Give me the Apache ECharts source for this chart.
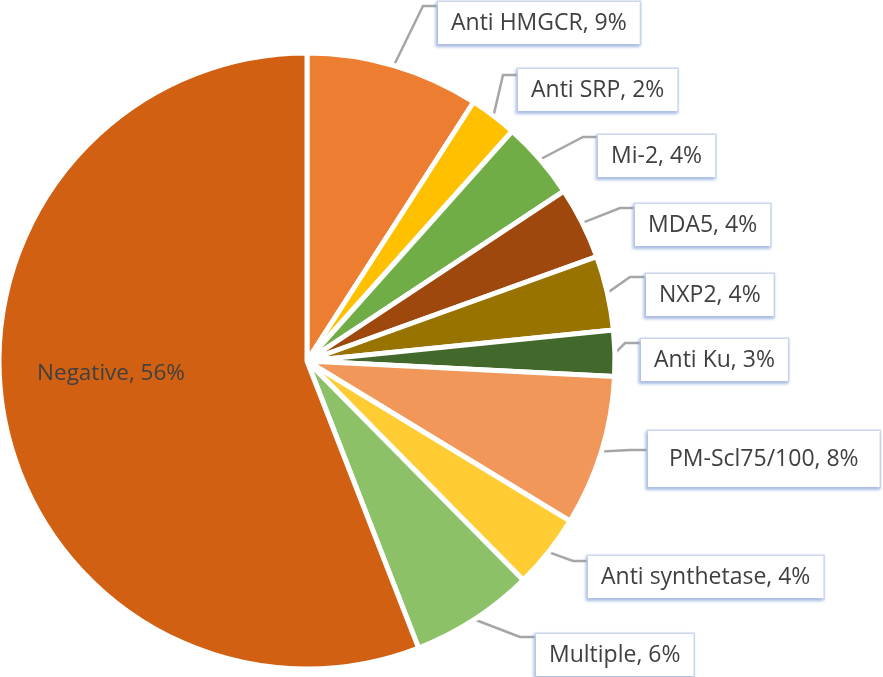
<!DOCTYPE html>
<html><head><meta charset="utf-8">
<script src="https://cdn.jsdelivr.net/npm/echarts/dist/echarts.min.js"></script>
<style>html,body{margin:0;padding:0;background:#fff}#c{width:883px;height:677px}</style>
</head><body><div id="c"></div>
<script>
const categories = ['Anti HMGCR','Anti SRP','Mi-2','MDA5','NXP2','Anti Ku','PM-Scl75/100','Anti synthetase','Multiple','Negative'];
const shares = [9.1, 2.5, 4.1, 3.8, 3.9, 2.4, 7.9, 3.9, 6.5, 55.9];
const shownPct = [9, 2, 4, 4, 4, 3, 8, 4, 6, 56];
const colors = ['#ED7D31','#FFC000','#70AD47','#9E480E','#997300','#43682B','#F1975A','#FFCD33','#8CC168','#D26012'];

// label placement (box left x, box centre y) and elbow of the leader line
const labelSpots = [
  {box:[438,23],  elbow:[423,6]},
  {box:[518,90],  elbow:[503,75]},
  {box:[598,156], elbow:[583,137]},
  {box:[635,225], elbow:[620,208]},
  {box:[646,295], elbow:[630,277]},
  {box:[641,360], elbow:[625,343]},
  {box:[648,459], elbow:[630,450]},
  {box:[588,577], elbow:[573,561]},
  {box:[536,655], elbow:[520,637]},
  {box:[111,374], elbow:null}
];

const boxLabel = {
  show: true,
  position: 'outside',
  color: '#404040',
  fontFamily: 'Open Sans',
  fontSize: 23,
  lineHeight: 22,
  backgroundColor: '#fff',
  borderColor: '#cdd8ec',
  borderWidth: 1.5,
  shadowColor: 'rgba(130,160,215,0.6)',
  shadowBlur: 3,
  shadowOffsetX: -1,
  shadowOffsetY: 1.5,
  padding: [10, 13]
};

const data = categories.map((name, i) => {
  const item = { name, value: shares[i], itemStyle: { color: colors[i] } };
  if (name === 'PM-Scl75/100') item.label = { padding: [17, 21] };
  if (name === 'Negative') {
    item.label = { position: 'inside', backgroundColor: 'transparent', borderWidth: 0,
      shadowBlur: 0, shadowColor: 'transparent', padding: 0, fontSize: 22.5 };
    item.labelLine = { show: false };
  }
  return item;
});

const chart = echarts.init(document.getElementById('c'));
chart.setOption({
  animation: false,
  series: [{
    type: 'pie',
    center: [307, 361],
    radius: 308,
    startAngle: 90,
    clockwise: true,
    avoidLabelOverlap: false,
    itemStyle: { borderColor: '#fff', borderWidth: 5 },
    label: Object.assign({}, boxLabel, {
      formatter: p => p.name + ', ' + shownPct[p.dataIndex] + '%'
    }),
    labelLine: { show: true, length: 20, length2: 15, smooth: false,
      lineStyle: { color: '#a6a6a6', width: 2.5 } },
    emphasis: { disabled: true },
    labelLayout: function (params) {
      const s = labelSpots[params.dataIndex];
      if (!s) return {};
      if (!s.elbow) {
        return { x: s.box[0], y: s.box[1], align: 'center', verticalAlign: 'middle' };
      }
      const pts = params.labelLinePoints;
      const out = { x: s.box[0], y: s.box[1], align: 'left', verticalAlign: 'middle' };
      if (pts && pts.length) {
        out.labelLinePoints = [pts[0], s.elbow, [s.box[0], s.elbow[1]]];
      }
      return out;
    },
    data: data
  }]
});
</script>
</body></html>
